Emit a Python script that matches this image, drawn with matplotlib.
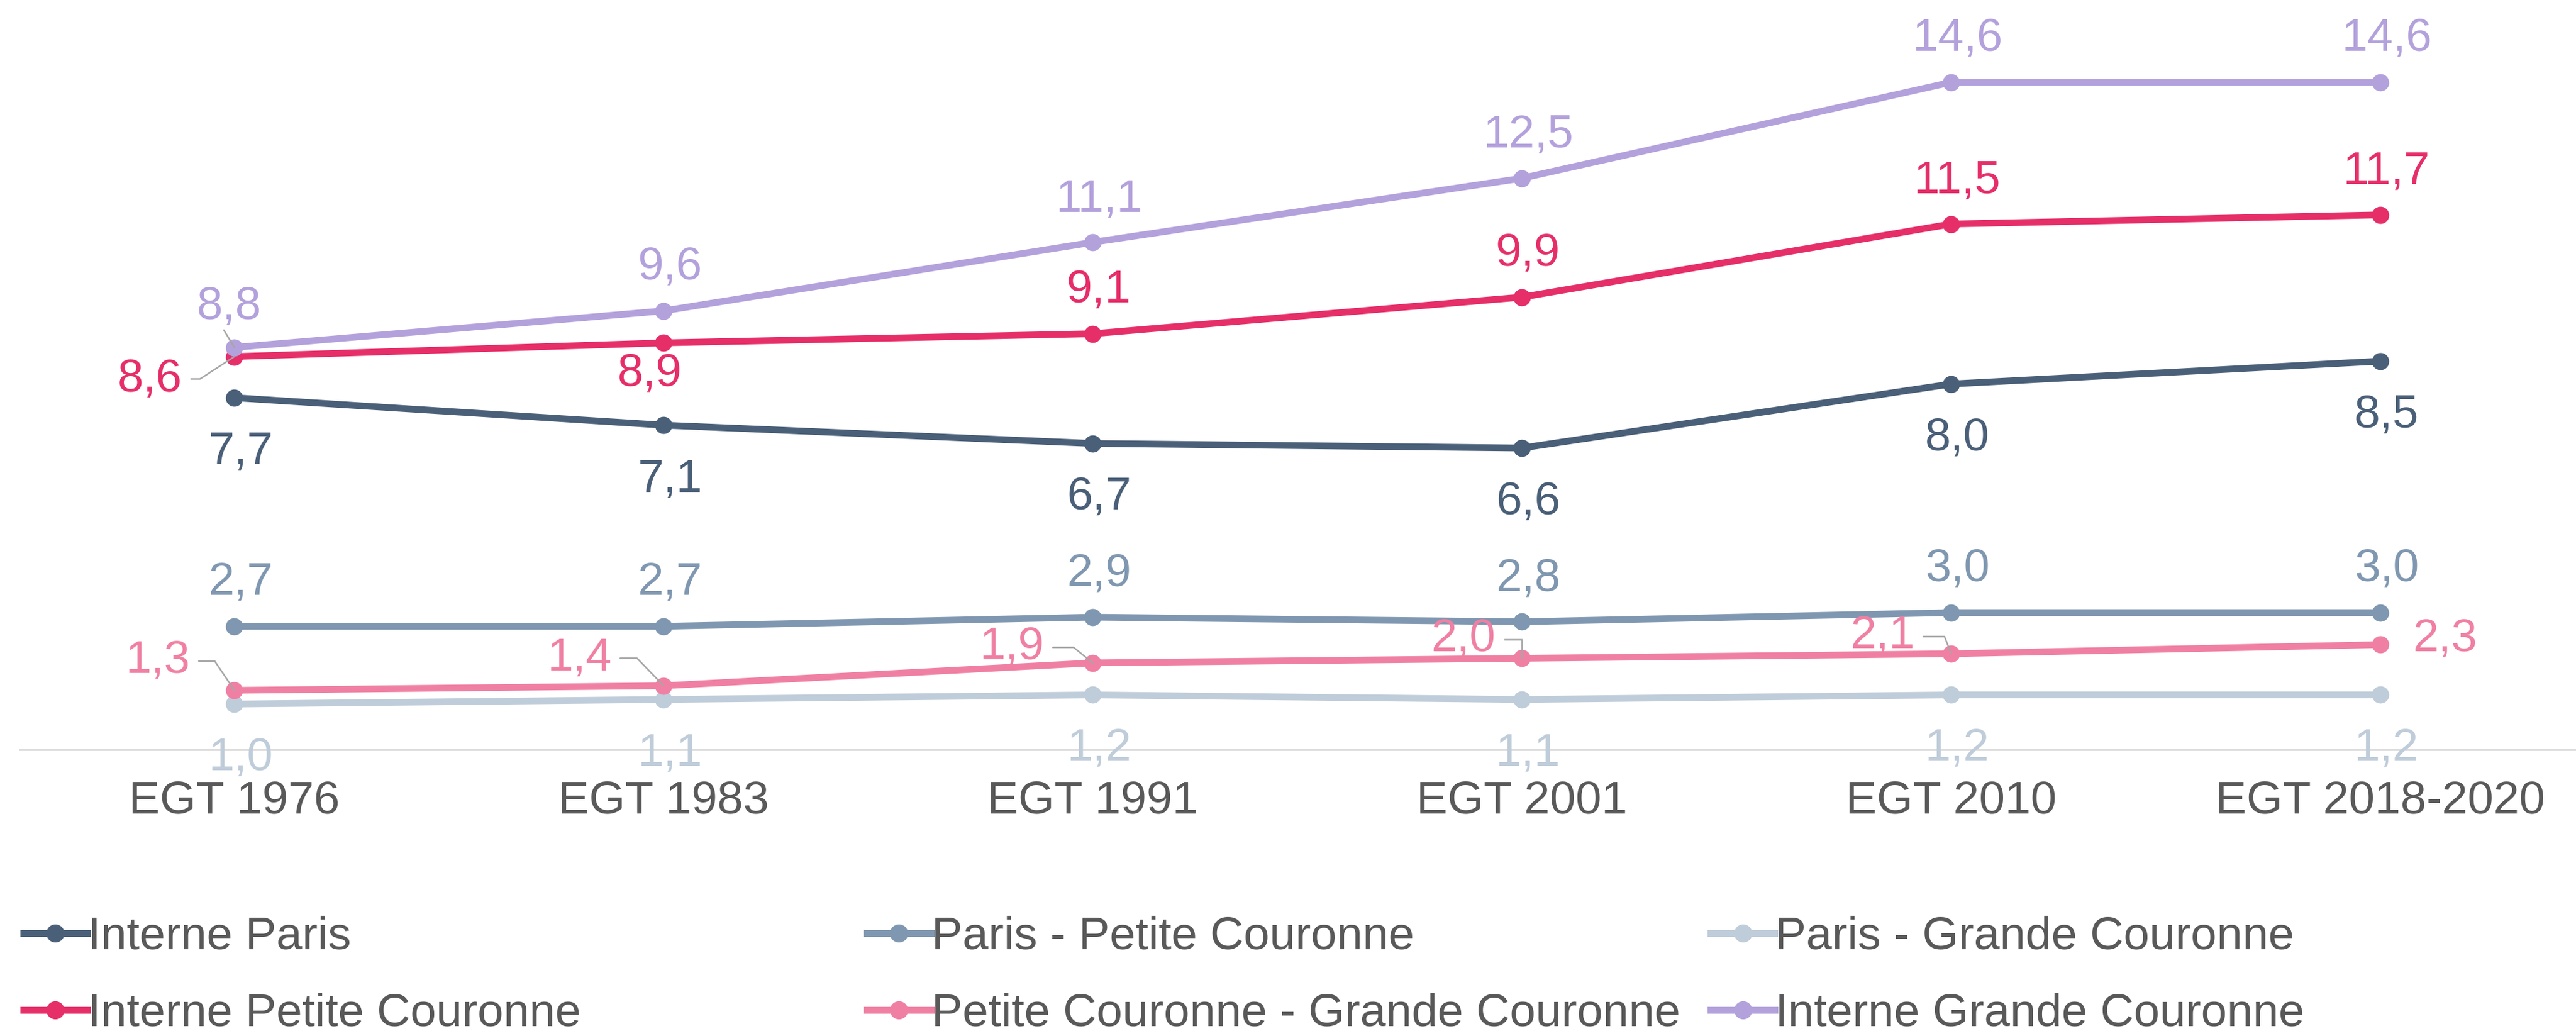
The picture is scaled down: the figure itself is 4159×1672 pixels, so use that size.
import matplotlib
matplotlib.use("Agg")
import matplotlib.pyplot as plt
from matplotlib.lines import Line2D

plt.rcParams['font.family'] = ['Liberation Sans', 'DejaVu Sans']

enquetes = ['EGT 1976', 'EGT 1983', 'EGT 1991', 'EGT 2001', 'EGT 2010', 'EGT 2018-2020']

noms = ['Interne Paris', 'Paris - Petite Couronne', 'Paris - Grande Couronne',
        'Interne Petite Couronne', 'Petite Couronne - Grande Couronne', 'Interne Grande Couronne']

interne_paris = [7.7, 7.1, 6.7, 6.6, 8.0, 8.5]
paris_pc = [2.7, 2.7, 2.9, 2.8, 3.0, 3.0]
paris_gc = [1.0, 1.1, 1.2, 1.1, 1.2, 1.2]
interne_pc = [8.6, 8.9, 9.1, 9.9, 11.5, 11.7]
pc_gc = [1.3, 1.4, 1.9, 2.0, 2.1, 2.3]
interne_gc = [8.8, 9.6, 11.1, 12.5, 14.6, 14.6]

series = [interne_paris, paris_pc, paris_gc, interne_pc, pc_gc, interne_gc]
couleurs = ['#4a5f78', '#7f97b0', '#bfccd9', '#e62e69', '#f080a3', '#b3a1dc']

GRIS = '#595959'
FS = 54

# position des étiquettes (points) : au-dessus / en dessous
HAUT = (7, 50)
BAS = (7, -63)
decalages = [
    [BAS] * 6,
    [HAUT] * 6,
    [BAS] * 6,
    [(-98, -26), (-16, -36), HAUT, HAUT, HAUT, HAUT],
    [(-89, 34), (-98, 32), (-94, 18), (-68, 22), (-80, 20), (75, 6)],
    [(-6, 47), HAUT, HAUT, HAUT, HAUT, HAUT],
]
# traits de rappel : (serie, point) -> angle
rappels = {(3, 0): 33, (4, 0): 124, (4, 1): 134, (4, 2): 141, (4, 3): 90, (4, 4): 111}

fig = plt.figure(figsize=(41.59, 16.72), dpi=100)
ax = fig.add_axes([0.0077, 0.2763, 0.9923, 0.7237])

x = list(range(len(enquetes)))
for k, (vals, c) in enumerate(zip(series, couleurs)):
    ax.plot(x, vals, color=c, lw=7.8, marker='o', ms=19, zorder=2 + k * 0.1,
            solid_capstyle='round')
    for i, v in enumerate(vals):
        dx, dy = decalages[k][i]
        txt = f'{v:.1f}'.replace('.', ',')
        kw = {}
        if (k, i) in rappels:
            kw['arrowprops'] = dict(arrowstyle='-', color='#a6a6a6', lw=1.8,
                                    shrinkA=8, shrinkB=0, relpos=(1, 0.5),
                                    connectionstyle=f'angle,angleA=0,angleB={rappels[(k, i)]},rad=0')
        elif (k, i) == (5, 0):
            kw['arrowprops'] = dict(arrowstyle='-', color='#a6a6a6', lw=1.8,
                                    shrinkA=0, shrinkB=0, relpos=(0.4, 0))
        ax.annotate(txt, xy=(i, v), xytext=(dx, dy), textcoords='offset points',
                    ha='center', va='center', color=c, fontsize=FS, zorder=5, **kw)

ax.set_xlim(-0.5, 5.456)
ax.set_ylim(0, 16.4)
ax.set_xticks(x)
ax.set_xticklabels(enquetes, fontsize=FS, color=GRIS)
ax.set_yticks([])
ax.tick_params(axis='x', length=0, pad=35)
for s in ['top', 'right', 'left']:
    ax.spines[s].set_visible(False)
ax.spines['bottom'].set_color('#d9d9d9')
ax.spines['bottom'].set_linewidth(2)

# légende en 3 colonnes x 2 lignes
col_x = [37.5, 1399.5, 2762]
lig_y = [1506, 1630]
W, H = 4159, 1672
for n, (nom, c) in enumerate(zip(noms, couleurs)):
    r, cc = divmod(n, 3)
    x0 = col_x[cc] / W
    x1 = (col_x[cc] + 103) / W
    y = 1 - lig_y[r] / H
    fig.add_artist(Line2D([x0, (x0 + x1) / 2, x1], [y, y, y], transform=fig.transFigure,
                          color=c, lw=8, marker='o', ms=20, markevery=[1]))
    fig.text((col_x[cc] + 104) / W, 1 - (lig_y[r] + 26) / H, nom, fontsize=FS,
             color=GRIS, ha='left', va='baseline')

fig.savefig('out.png', dpi=100)
